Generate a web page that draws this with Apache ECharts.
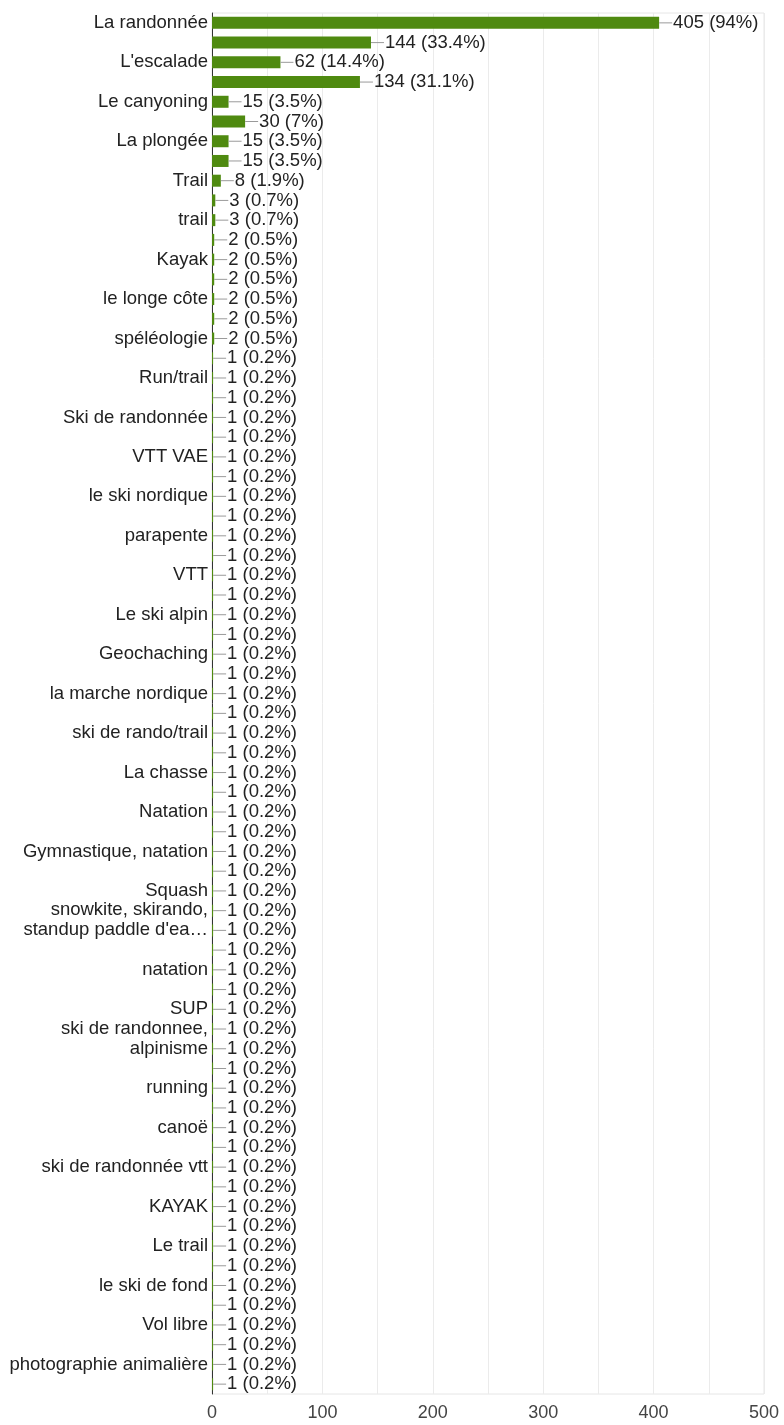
<!DOCTYPE html>
<html>
<head>
<meta charset="utf-8">
<script src="https://cdn.jsdelivr.net/npm/echarts@6/dist/echarts.min.js"></script>
<style>
html,body{margin:0;padding:0;background:#fff;}
#chart{width:784px;height:1425px;}
</style>
</head>
<body>
<div id="chart"></div>
<script>
// Categories (every other label is hidden on the axis in the reference; unreadable ones left blank)
const categories = [
  'La randonnée', '', "L'escalade", '', 'Le canyoning', '', 'La plongée', '', 'Trail', '',
  'trail', '', 'Kayak', '', 'le longe côte', '', 'spéléologie', '', 'Run/trail', '',
  'Ski de randonnée', '', 'VTT VAE', '', 'le ski nordique', '', 'parapente', '', 'VTT', '',
  'Le ski alpin', '', 'Geochaching', '', 'la marche nordique', '', 'ski de rando/trail', '', 'La chasse', '',
  'Natation', '', 'Gymnastique, natation', '', 'Squash', '', "snowkite, skirando,\nstandup paddle d'ea…", '', 'natation', '',
  'SUP', '', 'ski de randonnee,\nalpinisme', '', 'running', '', 'canoë', '', 'ski de randonnée vtt', '',
  'KAYAK', '', 'Le trail', '', 'le ski de fond', '', 'Vol libre', '', 'photographie animalière', ''
];
const values = [
  405, 144, 62, 134, 15, 30, 15, 15, 8, 3,
  3, 2, 2, 2, 2, 2, 2, 1, 1, 1,
  1, 1, 1, 1, 1, 1, 1, 1, 1, 1,
  1, 1, 1, 1, 1, 1, 1, 1, 1, 1,
  1, 1, 1, 1, 1, 1, 1, 1, 1, 1,
  1, 1, 1, 1, 1, 1, 1, 1, 1, 1,
  1, 1, 1, 1, 1, 1, 1, 1, 1, 1
];
const percents = [
  '94%', '33.4%', '14.4%', '31.1%', '3.5%', '7%', '3.5%', '3.5%', '1.9%', '0.7%',
  '0.7%', '0.5%', '0.5%', '0.5%', '0.5%', '0.5%', '0.5%', '0.2%', '0.2%', '0.2%',
  '0.2%', '0.2%', '0.2%', '0.2%', '0.2%', '0.2%', '0.2%', '0.2%', '0.2%', '0.2%',
  '0.2%', '0.2%', '0.2%', '0.2%', '0.2%', '0.2%', '0.2%', '0.2%', '0.2%', '0.2%',
  '0.2%', '0.2%', '0.2%', '0.2%', '0.2%', '0.2%', '0.2%', '0.2%', '0.2%', '0.2%',
  '0.2%', '0.2%', '0.2%', '0.2%', '0.2%', '0.2%', '0.2%', '0.2%', '0.2%', '0.2%',
  '0.2%', '0.2%', '0.2%', '0.2%', '0.2%', '0.2%', '0.2%', '0.2%', '0.2%', '0.2%'
];
const xTicks = [0, 100, 200, 300, 400, 500];

const FONT = '"Liberation Sans", Arial, sans-serif';
const chart = echarts.init(document.getElementById('chart'), null, {renderer: 'canvas'});
chart.setOption({
  backgroundColor: '#ffffff',
  animation: false,
  grid: {
    left: 212, right: 20, top: 13, bottom: 31,
    show: true, borderColor: '#e6e6e6', borderWidth: 1, containLabel: false
  },
  xAxis: {
    type: 'value',
    min: xTicks[0], max: xTicks[xTicks.length - 1], interval: 50,
    axisLine: {show: false},
    axisTick: {show: false},
    splitLine: {show: true, lineStyle: {color: '#ebebeb', width: 1}},
    axisLabel: {
      color: '#444', fontSize: 18, fontFamily: FONT, margin: 10,
      formatter: v => (xTicks.indexOf(v) >= 0 ? String(v) : '')
    }
  },
  yAxis: {
    type: 'category',
    inverse: true,
    data: categories,
    axisLine: {show: true, lineStyle: {color: '#333', width: 1}},
    axisTick: {show: false},
    splitLine: {show: false},
    axisLabel: {
      interval: 1,
      color: '#222', fontSize: 18.5, fontFamily: FONT, margin: 4, lineHeight: 20,
      formatter: v => (v.indexOf('\n') >= 0 ? v + '\n ' : v)
    }
  },
  series: [{
    type: 'bar',
    data: values,
    barWidth: 12,
    itemStyle: {color: '#4f8a10'},
    label: {
      show: true,
      position: 'right',
      distance: 0,
      formatter: p => '{l|}{t|' + p.value + ' (' + percents[p.dataIndex] + ')}',
      rich: {
        l: {width: 13, height: 1, backgroundColor: '#9a9a9a'},
        t: {color: '#222', fontSize: 18.5, fontFamily: FONT, padding: [0, 0, 0, 1]}
      }
    }
  }]
});
</script>
</body>
</html>
